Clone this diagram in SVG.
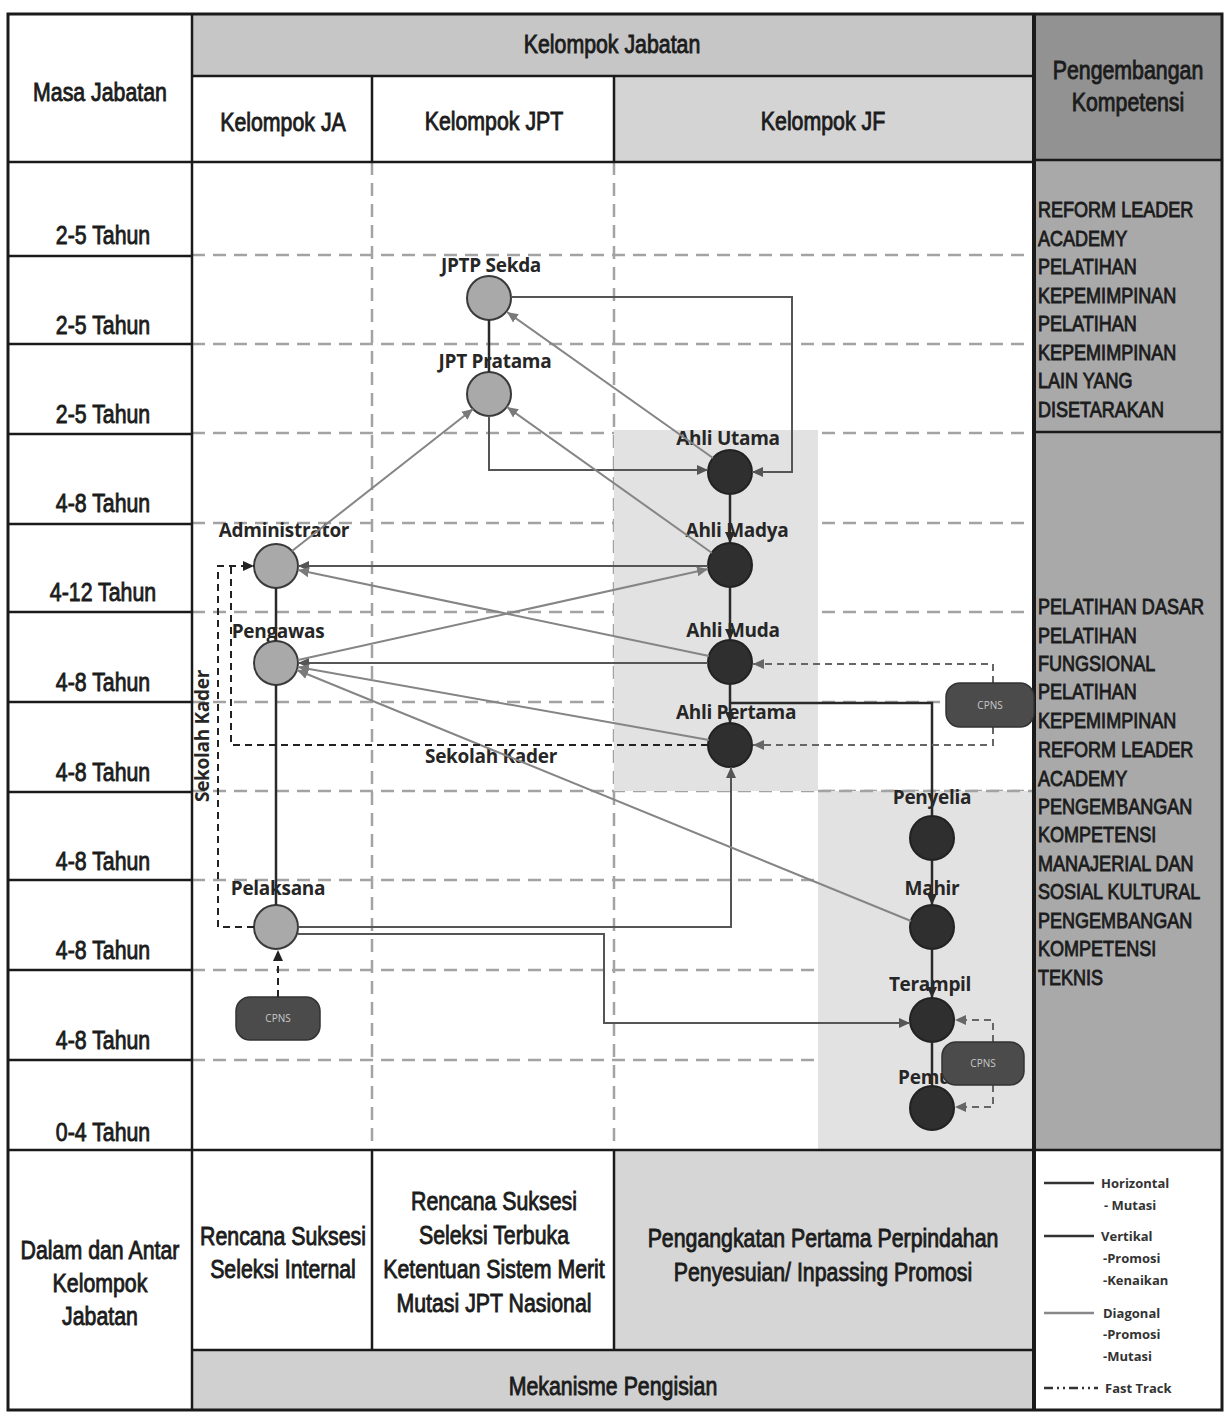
<svg xmlns="http://www.w3.org/2000/svg" width="1225" height="1414" viewBox="0 0 1225 1414">
<defs>
<style>
.tb{font-family:"Liberation Sans",Arial,sans-serif;font-size:26px;fill:#1c1c1c;stroke:#1c1c1c;stroke-width:0.9;text-anchor:middle}
.rc{font-family:"Liberation Sans",Arial,sans-serif;font-size:22px;fill:#1c1c1c;stroke:#1c1c1c;stroke-width:0.9}
.nl{font-family:"Open Sans","Noto Sans",sans-serif;font-weight:700;font-size:19px;fill:#262626;text-anchor:middle;letter-spacing:-0.3px}
.lg{font-family:"Open Sans","Noto Sans",sans-serif;font-weight:700;font-size:13px;fill:#333}
.cp{font-family:"Open Sans","Noto Sans",sans-serif;font-size:10px;fill:#c8c8c8;text-anchor:middle}
.grid{stroke:#a3a3a3;stroke-width:2.5;stroke-dasharray:13 8;fill:none}
.frame{stroke:#1a1a1a;stroke-width:3;fill:none}
.cl{stroke:#1a1a1a;stroke-width:2.5}
.nA{fill:#a9a9a9;stroke:#3a3a3a;stroke-width:2}
.nF{fill:#2f2f2f;stroke:#222;stroke-width:2}
.vert{stroke:#2a2a2a;stroke-width:2.5;fill:none}
.hor{stroke:#555;stroke-width:2;fill:none}
.diag{stroke:#858585;stroke-width:2;fill:none}
.fast{stroke:#222;stroke-width:2;stroke-dasharray:7 5;fill:none}
.fastg{stroke:#666;stroke-width:2;stroke-dasharray:7 5;fill:none}
.cpns{fill:#4b4b4b;stroke:#333;stroke-width:1.5}
</style>
<marker id="aV" markerUnits="userSpaceOnUse" markerWidth="12" markerHeight="12" refX="11" refY="6" orient="auto"><path d="M0,1 L11,6 L0,11 z" fill="#2a2a2a"/></marker>
<marker id="aH" markerUnits="userSpaceOnUse" markerWidth="12" markerHeight="12" refX="11" refY="6" orient="auto"><path d="M0,1 L11,6 L0,11 z" fill="#555"/></marker>
<marker id="aD" markerUnits="userSpaceOnUse" markerWidth="12" markerHeight="12" refX="11" refY="6" orient="auto"><path d="M0,1 L11,6 L0,11 z" fill="#7a7a7a"/></marker>
<marker id="aF" markerUnits="userSpaceOnUse" markerWidth="12" markerHeight="12" refX="11" refY="6" orient="auto"><path d="M0,1 L11,6 L0,11 z" fill="#222"/></marker>
<marker id="aG" markerUnits="userSpaceOnUse" markerWidth="12" markerHeight="12" refX="11" refY="6" orient="auto"><path d="M0,1 L11,6 L0,11 z" fill="#666"/></marker>
</defs>

<rect x="0" y="0" width="1225" height="1414" fill="#fff"/>

<g id="table">
<rect x="192" y="14" width="842" height="62" fill="#c6c6c6"/>
<rect x="614" y="76" width="420" height="86" fill="#d4d4d4"/>
<rect x="1034" y="14" width="188" height="146" fill="#929292"/>
<rect x="1034" y="160" width="188" height="272" fill="#a9a9a9"/>
<rect x="1034" y="432" width="188" height="718" fill="#a9a9a9"/>
<rect x="614" y="1150" width="420" height="200" fill="#d6d6d6"/>
<rect x="192" y="1350" width="842" height="60" fill="#d0d0d0"/>

<g class="grid">
<path d="M192,255 H1034 M192,344 H1034 M192,433 H1034 M192,523 H1034 M192,612 H1034 M192,702 H1034 M192,791 H1034 M192,880 H1034 M192,970 H1034 M192,1060 H1034"/>
<path d="M372,162 V1150 M614,162 V1150"/>
</g>
<rect x="614" y="430" width="204" height="361" fill="#e2e2e2"/>
<rect x="818" y="791" width="216" height="359" fill="#e2e2e2"/>
<path class="grid" d="M818,791 H1034"/>

<rect class="frame" x="8" y="14" width="1214" height="1396"/>
<g class="cl">
<path d="M192,14 V1410"/>
<path d="M192,76 H1034 M8,162 H1034 M1034,160 H1222 M1034,432 H1222"/>
<path d="M372,76 V162 M614,76 V162"/>
<path d="M8,256 H192 M8,344 H192 M8,434 H192 M8,524 H192 M8,612 H192 M8,702 H192 M8,792 H192 M8,880 H192 M8,970 H192 M8,1060 H192"/>
<path d="M8,1150 H1222 M192,1350 H1034 M372,1150 V1350 M614,1150 V1350"/>
</g>
<path d="M1034,14 V1410" stroke="#1a1a1a" stroke-width="4"/>

<g transform="scale(0.82 1)">
<text class="tb" x="121.95" y="101">Masa Jabatan</text>
<text class="tb" x="746.34" y="53">Kelompok Jabatan</text>
<text class="tb" x="345.12" y="131">Kelompok JA</text>
<text class="tb" x="602.44" y="130">Kelompok JPT</text>
<text class="tb" x="1003.66" y="130">Kelompok JF</text>
<text class="tb" x="1375.61" y="79">Pengembangan</text>
<text class="tb" x="1375.61" y="111">Kompetensi</text>

<text class="tb" x="125.61" y="244">2-5 Tahun</text>
<text class="tb" x="125.61" y="334">2-5 Tahun</text>
<text class="tb" x="125.61" y="423">2-5 Tahun</text>
<text class="tb" x="125.61" y="512">4-8 Tahun</text>
<text class="tb" x="125.61" y="601">4-12 Tahun</text>
<text class="tb" x="125.61" y="691">4-8 Tahun</text>
<text class="tb" x="125.61" y="781">4-8 Tahun</text>
<text class="tb" x="125.61" y="870">4-8 Tahun</text>
<text class="tb" x="125.61" y="959">4-8 Tahun</text>
<text class="tb" x="125.61" y="1049">4-8 Tahun</text>
<text class="tb" x="125.61" y="1141">0-4 Tahun</text>

<g class="rc">
<text x="1265.85" y="217">REFORM LEADER</text>
<text x="1265.85" y="246">ACADEMY</text>
<text x="1265.85" y="274">PELATIHAN</text>
<text x="1265.85" y="303">KEPEMIMPINAN</text>
<text x="1265.85" y="331">PELATIHAN</text>
<text x="1265.85" y="360">KEPEMIMPINAN</text>
<text x="1265.85" y="388">LAIN YANG</text>
<text x="1265.85" y="417">DISETARAKAN</text>
<text x="1265.85" y="614">PELATIHAN DASAR</text>
<text x="1265.85" y="643">PELATIHAN</text>
<text x="1265.85" y="671">FUNGSIONAL</text>
<text x="1265.85" y="699">PELATIHAN</text>
<text x="1265.85" y="728">KEPEMIMPINAN</text>
<text x="1265.85" y="757">REFORM LEADER</text>
<text x="1265.85" y="786">ACADEMY</text>
<text x="1265.85" y="814">PENGEMBANGAN</text>
<text x="1265.85" y="842">KOMPETENSI</text>
<text x="1265.85" y="871">MANAJERIAL DAN</text>
<text x="1265.85" y="899">SOSIAL KULTURAL</text>
<text x="1265.85" y="928">PENGEMBANGAN</text>
<text x="1265.85" y="956">KOMPETENSI</text>
<text x="1265.85" y="985">TEKNIS</text>
</g>

<text class="tb" x="121.95" y="1259">Dalam dan Antar</text>
<text class="tb" x="121.95" y="1292">Kelompok</text>
<text class="tb" x="121.95" y="1325">Jabatan</text>
<text class="tb" x="345.12" y="1245">Rencana Suksesi</text>
<text class="tb" x="345.12" y="1278">Seleksi Internal</text>
<text class="tb" x="602.44" y="1210">Rencana Suksesi</text>
<text class="tb" x="602.44" y="1244">Seleksi Terbuka</text>
<text class="tb" x="602.44" y="1278">Ketentuan Sistem Merit</text>
<text class="tb" x="602.44" y="1312">Mutasi JPT Nasional</text>
<text class="tb" x="1003.66" y="1247">Pengangkatan Pertama Perpindahan</text>
<text class="tb" x="1003.66" y="1281">Penyesuian/ Inpassing Promosi</text>
<text class="tb" x="747.56" y="1395">Mekanisme Pengisian</text>
</g>
</g>

<g id="legend">
<path d="M1044,1183 H1094" stroke="#333" stroke-width="2.5"/>
<text class="lg" x="1101" y="1188">Horizontal</text>
<text class="lg" x="1104" y="1210">- Mutasi</text>
<path d="M1044,1236 H1094" stroke="#333" stroke-width="2.5"/>
<text class="lg" x="1101" y="1241">Vertikal</text>
<text class="lg" x="1103" y="1263">-Promosi</text>
<text class="lg" x="1103" y="1285">-Kenaikan</text>
<path d="M1044,1313 H1094" stroke="#888" stroke-width="2.5"/>
<text class="lg" x="1103" y="1318">Diagonal</text>
<text class="lg" x="1103" y="1339">-Promosi</text>
<text class="lg" x="1103" y="1361">-Mutasi</text>
<path d="M1044,1388 H1098" stroke="#333" stroke-width="2.5" stroke-dasharray="9 4 2 4 2 4"/>
<text class="lg" x="1105" y="1393">Fast Track</text>
</g>

<g id="jptp-sekda"><text class="nl" x="491" y="272">JPTP Sekda</text><circle class="nA" cx="489" cy="298" r="22"/></g>
<g id="jpt-pratama"><text class="nl" x="495" y="368">JPT Pratama</text><circle class="nA" cx="489" cy="394" r="22"/></g>
<g id="administrator"><text class="nl" x="284" y="537">Administrator</text><circle class="nA" cx="276" cy="566" r="22"/></g>
<g id="pengawas"><text class="nl" x="278" y="638">Pengawas</text><circle class="nA" cx="276" cy="663" r="22"/></g>
<g id="pelaksana"><text class="nl" x="278" y="895">Pelaksana</text><circle class="nA" cx="276" cy="927" r="22"/></g>
<g id="ahli-utama"><text class="nl" x="728" y="445">Ahli Utama</text><circle class="nF" cx="730" cy="472" r="22"/></g>
<g id="ahli-madya"><text class="nl" x="737" y="537">Ahli Madya</text><circle class="nF" cx="730" cy="565" r="22"/></g>
<g id="ahli-muda"><text class="nl" x="733" y="637">Ahli Muda</text><circle class="nF" cx="730" cy="662" r="22"/></g>
<g id="ahli-pertama"><text class="nl" x="736" y="719">Ahli Pertama</text><circle class="nF" cx="730" cy="745" r="22"/></g>
<g id="penyelia"><text class="nl" x="932" y="804">Penyelia</text><circle class="nF" cx="932" cy="838" r="22"/></g>
<g id="mahir"><text class="nl" x="932" y="895">Mahir</text><circle class="nF" cx="932" cy="927" r="22"/></g>
<g id="terampil"><text class="nl" x="930" y="991">Terampil</text><circle class="nF" cx="932" cy="1020" r="22"/></g>
<g id="pemula"><text class="nl" x="933" y="1084">Pemula</text><circle class="nF" cx="932" cy="1108" r="22"/></g>
<text class="nl" x="491" y="763">Sekolah Kader</text>
<text class="nl" x="0" y="0" transform="translate(209,736) rotate(-90)">Sekolah Kader</text>

<g id="connectors">
<path class="vert" d="M489,320 V372"/>
<path class="vert" d="M276,588 V641"/>
<path class="vert" d="M276,685 V905"/>
<path class="vert" d="M730,494 V543" marker-end="url(#aV)"/>
<path class="vert" d="M730,587 V640" marker-end="url(#aV)"/>
<path class="vert" d="M730,684 V723" marker-end="url(#aV)"/>
<path class="vert" d="M730,703 H932 V816"/>
<path class="vert" d="M932,860 V905" marker-end="url(#aV)"/>
<path class="vert" d="M932,949 V998" marker-end="url(#aV)"/>
<path class="vert" d="M932,1042 V1086"/>

<path class="hor" d="M708,566 H298" marker-end="url(#aH)"/>
<path class="hor" d="M708,663 H298" marker-end="url(#aH)"/>
<path class="hor" d="M489,416 V470 H708" marker-end="url(#aH)"/>
<path class="hor" d="M511,297 H792 V472 H752" marker-end="url(#aH)"/>
<path class="hor" d="M298,927 H731 V767" marker-end="url(#aH)"/>
<path class="hor" d="M298,934 H604 V1023 H910" marker-end="url(#aH)"/>

<path class="diag" d="M292,551 L473,409" marker-end="url(#aD)"/>
<path class="diag" d="M712,553 L507,407" marker-end="url(#aD)"/>
<path class="diag" d="M713,458 L507,312" marker-end="url(#aD)"/>
<path class="diag" d="M298,660 L708,569" marker-end="url(#aD)"/>
<path class="diag" d="M709,656 L298,570" marker-end="url(#aD)"/>
<path class="diag" d="M709,740 L298,667" marker-end="url(#aD)"/>
<path class="diag" d="M911,921 L297,670" marker-end="url(#aD)"/>

<path class="fast" d="M254,927 H218 V566 H254" marker-end="url(#aF)"/>
<path class="fast" d="M708,745 H231 V566"/>
<path class="fast" d="M278,997 V950" marker-end="url(#aF)"/>
<path class="fastg" d="M993,683 V664 H753" marker-end="url(#aG)"/>
<path class="fastg" d="M993,727 V745 H753" marker-end="url(#aG)"/>
<path class="fastg" d="M993,1042 V1020 H955" marker-end="url(#aG)"/>
<path class="fastg" d="M993,1085 V1107 H955" marker-end="url(#aG)"/>
</g>

<g id="cpns-ja"><rect class="cpns" x="236" y="997" width="84" height="43" rx="14"/><text class="cp" x="278" y="1022">CPNS</text></g>
<g id="cpns-jf-ahli"><rect class="cpns" x="946" y="683" width="88" height="44" rx="14"/><text class="cp" x="990" y="709">CPNS</text></g>
<g id="cpns-jf-terampil"><rect class="cpns" x="942" y="1042" width="82" height="43" rx="14"/><text class="cp" x="983" y="1067">CPNS</text></g>
</svg>
